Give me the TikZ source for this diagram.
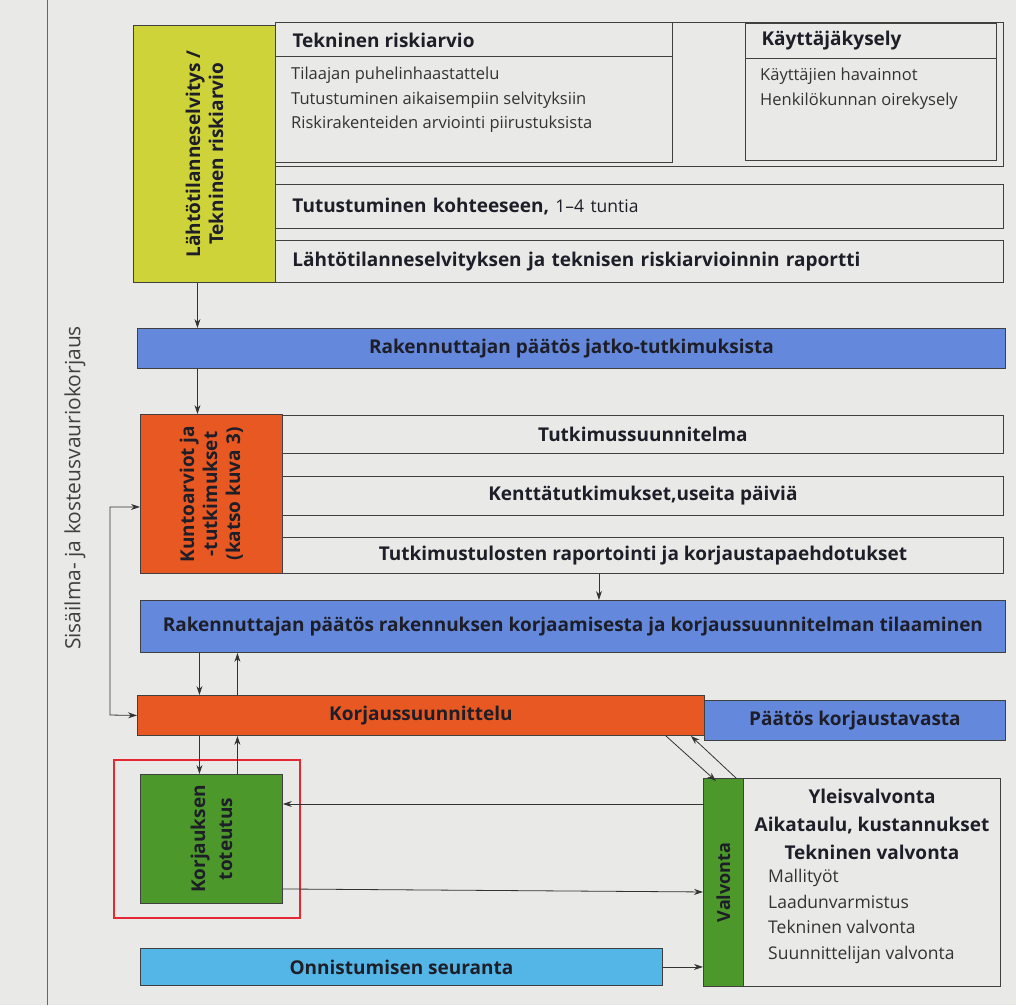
\documentclass[tikz,border=0pt]{standalone}
\usepackage{fontspec}
\setmainfont{Open Sans}
\usetikzlibrary{arrows.meta, positioning}

\definecolor{paper}{RGB}{233,233,231}
\definecolor{lahtoyellow}{RGB}{207,211,58}
\definecolor{paatosblue}{RGB}{100,136,220}
\definecolor{kuntoorange}{RGB}{232,88,34}
\definecolor{toteutusgreen}{RGB}{76,152,42}
\definecolor{seurantacyan}{RGB}{84,182,230}
\definecolor{korostusred}{RGB}{230,40,52}
\definecolor{tekstiink}{RGB}{30,30,40}

\newcommand{\isofont}{\bfseries\fontsize{19}{23}\selectfont}
\newcommand{\leipafont}{\fontsize{16.5}{24.5}\selectfont}

\begin{document}
\begin{tikzpicture}
  [x=1pt, y=-1pt, >={Stealth[length=9pt,width=6pt]},
   box/.style={draw=black!75, fill=paper, line width=0.9pt, inner sep=0pt,
               anchor=north west, text=tekstiink},
   bar/.style={box, font=\isofont},
   rivi/.style={box, font=\isofont, align=left},
   pystyteksti/.style={rotate=90, align=center, font=\isofont, text=tekstiink},
   conn/.style={->, line width=0.8pt, black!80}]
  \useasboundingbox (0,0) rectangle (1016,1005);
  \fill[paper] (0,0) rectangle (1016,1005);
  \draw[black!60, line width=0.8pt] (47,0) -- (47,1005);
  \node[rotate=90, font=\fontsize{21}{24}\selectfont, text=black!75]
       (otsikko) at (75,488) {Sisäilma- ja kosteusvauriokorjaus};

  % lahtotilanne
  \node[box, fill=lahtoyellow, minimum width=142, minimum height=257] (lahto) at (133,25) {};
  \node[pystyteksti] at (lahto.center) {Lähtötilanneselvitys /\\Tekninen riskiarvio};
  \node[box, minimum width=728, minimum height=144] (riskit) at (275,22) {};
  \node[box, minimum width=397, minimum height=140] (tekninen) at (275,22) {};
  \draw[black!75, line width=0.9pt] (tekninen.west |- 0,56) -- (tekninen.east |- 0,56);
  \node[anchor=west, font=\isofont, text=tekstiink] at (289,40) {Tekninen riskiarvio};
  \node[anchor=north west, align=left, font=\leipafont, text=black!80, inner sep=0pt]
       at (291,67) {Tilaajan puhelinhaastattelu\\Tutustuminen aikaisempiin selvityksiin\\Riskirakenteiden arviointi piirustuksista};
  \node[box, minimum width=251, minimum height=137] (kysely) at (745,23) {};
  \draw[black!75, line width=0.9pt] (kysely.west |- 0,58) -- (kysely.east |- 0,58);
  \node[anchor=west, font=\isofont, text=tekstiink] at (758,41) {Käyttäjäkysely};
  \node[anchor=north west, align=left, font=\leipafont, text=black!80, inner sep=0pt]
       at (760,68) {Käyttäjien havainnot\\Henkilökunnan oirekysely};
  \node[rivi, minimum width=728, minimum height=44, text width=694pt] (kohde) at (275,184)
       {Tutustuminen kohteeseen, {\mdseries\fontsize{17.5}{20}\selectfont 1--4 tuntia}};
  \node[rivi, minimum width=728, minimum height=42, text width=694pt] (raportti1) at (275,240)
       {Lähtötilanneselvityksen ja teknisen riskiarvioinnin raportti};

  % jatkotutkimukset
  \node[bar, fill=paatosblue, minimum width=868, minimum height=40] (paatos1) at (137,328)
       {Rakennuttajan päätös jatko-tutkimuksista};
  \node[box, fill=kuntoorange, minimum width=142, minimum height=159] (kunto) at (140,414) {};
  \node[pystyteksti] at (kunto.center) {Kuntoarviot ja\\-tutkimukset\\(katso kuva 3)};
  \node[bar, minimum width=721, minimum height=38] (suunnitelma) at (282,415) {Tutkimussuunnitelma};
  \node[bar, minimum width=721, minimum height=39] (kentta) at (282,476) {Kenttätutkimukset,useita päiviä};
  \node[bar, minimum width=721, minimum height=36] (raportti2) at (282,537)
       {Tutkimustulosten raportointi ja korjaustapaehdotukset};
  \node[bar, fill=paatosblue, minimum width=865, minimum height=52] (paatos2) at (140,600)
       {Rakennuttajan päätös rakennuksen korjaamisesta ja korjaussuunnitelman tilaaminen};

  % korjaus
  \node[bar, fill=kuntoorange, minimum width=567, minimum height=40] (korjsuun) at (137,695)
       {Korjaussuunnittelu};
  \node[bar, fill=paatosblue, minimum width=301, minimum height=40] (korjtapa) at (704,700)
       {Päätös korjaustavasta};
  \node[draw=korostusred, line width=1.6pt, minimum width=186, minimum height=158,
        anchor=north west, inner sep=0pt] (korostus) at (113,759) {};
  \node[box, fill=toteutusgreen, minimum width=142, minimum height=129] (toteutus) at (140,774) {};
  \node[pystyteksti, font=\bfseries\fontsize{19}{27}\selectfont]
       at (toteutus.center) {Korjauksen\\toteutus};
  \node[box, fill=toteutusgreen, minimum width=40, minimum height=208] (valvonta) at (703,778) {};
  \node[pystyteksti, font=\bfseries\fontsize{18}{20}\selectfont] at (valvonta.center) {Valvonta};
  \node[box, minimum width=257, minimum height=208] (valvontatyot) at (743,778) {};
  \node[anchor=north, align=center, font=\fontsize{19}{28}\selectfont\bfseries, text=tekstiink,
        inner sep=0pt] at (872,789) {Yleisvalvonta\\Aikataulu, kustannukset\\Tekninen valvonta};
  \node[anchor=north west, align=left, font=\fontsize{17.5}{25.5}\selectfont, text=black!80,
        inner sep=0pt] at (768,869) {Mallityöt\\Laadunvarmistus\\Tekninen valvonta\\Suunnittelijan valvonta};
  \node[bar, fill=seurantacyan, minimum width=522, minimum height=37] (seuranta) at (140,948)
       {Onnistumisen seuranta};

  % nuolet
  \draw[conn] ([xshift=-7pt]lahto.south) -- ([xshift=-7pt]lahto.south |- paatos1.north);
  \draw[conn] ([xshift=-14pt]kunto.north |- paatos1.south) -- ([xshift=-14pt]kunto.north);
  \draw[conn] ([xshift=-44pt]raportti2.south) -- ([xshift=-44pt]raportti2.south |- paatos2.north);
  \draw[conn] ([xshift=-12pt]toteutus.north |- paatos2.south) -- ([xshift=-12pt]toteutus.north |- korjsuun.north);
  \draw[conn] ([xshift=26pt]toteutus.north |- korjsuun.north) -- ([xshift=26pt]toteutus.north |- paatos2.south);
  \draw[conn] ([xshift=-12pt]toteutus.north |- korjsuun.south) -- ([xshift=-12pt]toteutus.north);
  \draw[conn] ([xshift=26pt]toteutus.north) -- ([xshift=26pt]toteutus.north |- korjsuun.south);
  \coordinate (silmukka) at (110,715);
  \draw[conn, <->] ([yshift=-13pt]kunto.west) -| (silmukka) -- (korjsuun.west);
  \draw[conn] ([xshift=-39pt]korjsuun.south east) -- ([xshift=13pt,yshift=-3pt]valvonta.north west);
  \draw[conn] ([xshift=33pt]valvonta.north west) -- ([xshift=-14pt]korjsuun.south east);
  \draw[conn] ([yshift=35pt]toteutus.east -| valvonta.west) -- ([yshift=35pt]toteutus.east);
  \draw[conn] ([yshift=-50pt]toteutus.east) -- ([yshift=-53pt]toteutus.east -| valvonta.west);
  \draw[conn] (seuranta.east) -- (seuranta.east -| valvonta.west);
\end{tikzpicture}
\end{document}
